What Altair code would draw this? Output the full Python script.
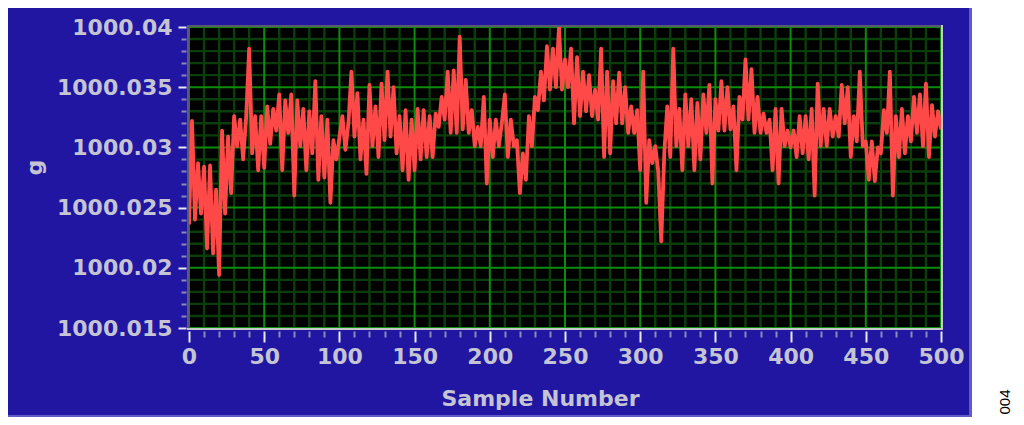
import altair as alt
import pandas as pd

# ---- data ----
sample_number = list(range(0, 501, 2))
g_value = [
    1000.0236, 1000.0322, 1000.0240, 1000.0287, 1000.0245, 1000.0284, 1000.0216, 1000.0285, 1000.0212, 1000.0265,
    1000.0194, 1000.0314, 1000.0245, 1000.0309, 1000.0262, 1000.0326, 1000.0301, 1000.0323, 1000.0290, 1000.0325,
    1000.0382, 1000.0295, 1000.0326, 1000.0281, 1000.0326, 1000.0283, 1000.0334, 1000.0303, 1000.0332, 1000.0314,
    1000.0344, 1000.0281, 1000.0339, 1000.0312, 1000.0344, 1000.0260, 1000.0339, 1000.0301, 1000.0332, 1000.0281,
    1000.0330, 1000.0295, 1000.0355, 1000.0273, 1000.0326, 1000.0275, 1000.0323, 1000.0254, 1000.0306, 1000.0290,
    1000.0308, 1000.0326, 1000.0298, 1000.0320, 1000.0363, 1000.0309, 1000.0345, 1000.0290, 1000.0323, 1000.0278,
    1000.0352, 1000.0301, 1000.0334, 1000.0292, 1000.0353, 1000.0306, 1000.0363, 1000.0309, 1000.0350, 1000.0295,
    1000.0326, 1000.0281, 1000.0331, 1000.0273, 1000.0323, 1000.0281, 1000.0332, 1000.0290, 1000.0331, 1000.0292,
    1000.0326, 1000.0292, 1000.0328, 1000.0317, 1000.0342, 1000.0323, 1000.0363, 1000.0312, 1000.0364, 1000.0312,
    1000.0392, 1000.0315, 1000.0356, 1000.0312, 1000.0331, 1000.0301, 1000.0317, 1000.0301, 1000.0342, 1000.0270,
    1000.0323, 1000.0292, 1000.0323, 1000.0301, 1000.0320, 1000.0344, 1000.0292, 1000.0323, 1000.0301, 1000.0306,
    1000.0262, 1000.0295, 1000.0273, 1000.0326, 1000.0301, 1000.0342, 1000.0331, 1000.0363, 1000.0339, 1000.0384,
    1000.0348, 1000.0382, 1000.0350, 1000.0400, 1000.0348, 1000.0373, 1000.0350, 1000.0382, 1000.0320, 1000.0375,
    1000.0326, 1000.0363, 1000.0330, 1000.0360, 1000.0326, 1000.0348, 1000.0323, 1000.0382, 1000.0292, 1000.0363,
    1000.0295, 1000.0355, 1000.0320, 1000.0362, 1000.0320, 1000.0350, 1000.0312, 1000.0334, 1000.0312, 1000.0331,
    1000.0281, 1000.0363, 1000.0254, 1000.0306, 1000.0287, 1000.0301, 1000.0280, 1000.0222, 1000.0295, 1000.0334,
    1000.0292, 1000.0382, 1000.0301, 1000.0332, 1000.0281, 1000.0344, 1000.0301, 1000.0340, 1000.0281, 1000.0337,
    1000.0290, 1000.0344, 1000.0312, 1000.0352, 1000.0270, 1000.0340, 1000.0314, 1000.0355, 1000.0314, 1000.0350,
    1000.0315, 1000.0334, 1000.0281, 1000.0342, 1000.0323, 1000.0373, 1000.0323, 1000.0365, 1000.0312, 1000.0342,
    1000.0312, 1000.0328, 1000.0312, 1000.0323, 1000.0281, 1000.0332, 1000.0270, 1000.0332, 1000.0301, 1000.0314,
    1000.0300, 1000.0314, 1000.0292, 1000.0326, 1000.0295, 1000.0326, 1000.0290, 1000.0332, 1000.0260, 1000.0353,
    1000.0301, 1000.0332, 1000.0301, 1000.0332, 1000.0309, 1000.0326, 1000.0309, 1000.0352, 1000.0320, 1000.0350,
    1000.0292, 1000.0326, 1000.0305, 1000.0363, 1000.0301, 1000.0305, 1000.0273, 1000.0305, 1000.0272, 1000.0300,
    1000.0295, 1000.0331, 1000.0312, 1000.0363, 1000.0260, 1000.0326, 1000.0292, 1000.0332, 1000.0295, 1000.0326,
    1000.0305, 1000.0342, 1000.0312, 1000.0344, 1000.0301, 1000.0353, 1000.0292, 1000.0335, 1000.0309, 1000.0330,
    1000.0315,
]
x_major_ticks = [0, 50, 100, 150, 200, 250, 300, 350, 400, 450, 500]
x_minor_ticks = [v for v in range(0, 501, 10) if v % 50 != 0]
y_major_ticks = [1000.015, 1000.020, 1000.025, 1000.030, 1000.035, 1000.040]
y_minor_ticks = [
    1000.016, 1000.017, 1000.018, 1000.019, 1000.021, 1000.022, 1000.023, 1000.024,
    1000.026, 1000.027, 1000.028, 1000.029, 1000.031, 1000.032, 1000.033, 1000.034,
    1000.036, 1000.037, 1000.038, 1000.039,
]
figure_id = ["004"]

df = pd.DataFrame({"Sample Number": sample_number, "g": g_value})
one = pd.DataFrame({"k": [0]})

# ---- styling ----
W, H = 752, 301
BLUE = "#2116a2"
LABEL = "#c4c4d4"
MAJOR = "#0c8c0c"
MINOR = "#0a3e0a"
FONT = "DejaVu Sans"

x_scale = alt.Scale(domain=[0, 500], nice=False, zero=False)
y_scale = alt.Scale(domain=[1000.015, 1000.04], nice=False, zero=False)

x_major = "datum.value % 50 === 0"
y_major = "abs(datum.value * 200 - round(datum.value * 200)) < 0.001"

x_axis = alt.Axis(
    values=x_major_ticks + x_minor_ticks,
    labelExpr=f"{x_major} ? datum.label : ''",
    labelOverlap=False, labelFlush=False, labelBound=False,
    labelFont=FONT, labelFontSize=22, labelFontWeight="bold", labelColor=LABEL,
    labelPadding=4,
    domain=False, offset=3, grid=False,
    tickColor={"condition": {"test": x_major, "value": "#e8e8f0"}, "value": "#8a8ab4"},
    tickSize={"condition": {"test": x_major, "value": 11}, "value": 6},
    tickWidth=2,
    title="Sample Number", titleFont=FONT, titleFontSize=22, titleFontWeight="bold",
    titleColor=LABEL, titleX=351, titleY=74, titleAlign="center", titleBaseline="alphabetic",
)

y_axis = alt.Axis(
    values=y_major_ticks + y_minor_ticks,
    labelExpr=f"{y_major} ? format(datum.value, '.3~f') : ''",
    labelOverlap=False, labelFlush=False, labelBound=False,
    labelFont=FONT, labelFontSize=22, labelFontWeight="bold", labelColor=LABEL,
    labelPadding=6,
    domain=False, offset=3, grid=False,
    tickColor={"condition": {"test": y_major, "value": "#e8e8f0"}, "value": "#8a8ab4"},
    tickSize={"condition": {"test": y_major, "value": 8}, "value": 5},
    tickWidth=2,
    title="g", titleFont=FONT, titleFontSize=22, titleFontWeight="bold", titleColor=LABEL,
    titleAngle=270, titleX=-145, titleY=140, titleAlign="center", titleBaseline="alphabetic",
)

# grid drawn as rules through the same scales (same axis objects so the axes merge)
grid_x_minor = alt.Chart(pd.DataFrame({"Sample Number": x_minor_ticks})).mark_rule(
    color=MINOR, strokeWidth=2.4).encode(x=alt.X("Sample Number:Q", scale=x_scale, axis=x_axis))
grid_y_minor = alt.Chart(pd.DataFrame({"g": y_minor_ticks})).mark_rule(
    color=MINOR, strokeWidth=2.4).encode(y=alt.Y("g:Q", scale=y_scale, axis=y_axis))
grid_x_major = alt.Chart(pd.DataFrame({"Sample Number": x_major_ticks})).mark_rule(
    color=MAJOR, strokeWidth=2).encode(x=alt.X("Sample Number:Q", scale=x_scale, axis=x_axis))
grid_y_major = alt.Chart(pd.DataFrame({"g": y_major_ticks})).mark_rule(
    color=MAJOR, strokeWidth=2).encode(y=alt.Y("g:Q", scale=y_scale, axis=y_axis))

line = alt.Chart(df).mark_line(color="#ff4848", strokeWidth=3.8, strokeJoin="round").encode(
    x=alt.X("Sample Number:Q", scale=x_scale, axis=x_axis),
    y=alt.Y("g:Q", scale=y_scale, axis=y_axis),
)

# white page area right of the blue panel + light panel edges
white_right = alt.Chart(one).mark_rect(color="white").encode(
    x=alt.value(783), x2=alt.value(860), y=alt.value(-40), y2=alt.value(420))
edge_right = alt.Chart(one).mark_rect(color="#5f5cc8").encode(
    x=alt.value(780), x2=alt.value(783), y=alt.value(-40), y2=alt.value(391))
edge_bottom = alt.Chart(one).mark_rect(color="#5f5cc8").encode(
    x=alt.value(-200), x2=alt.value(783), y=alt.value(388), y2=alt.value(391))

# sunken frame around the plot
dark = alt.Chart(one).mark_rule(color="#5a5a6e", strokeWidth=2)
light = alt.Chart(one).mark_rule(color="#c8c8cc", strokeWidth=2)
frame_top = dark.encode(x=alt.value(-2), x2=alt.value(W + 2), y=alt.value(-1))
frame_left = dark.encode(x=alt.value(-1), y=alt.value(-2), y2=alt.value(H + 2))
frame_bottom = light.encode(x=alt.value(-2), x2=alt.value(W + 2), y=alt.value(H + 1))
frame_right = light.encode(x=alt.value(W + 1), y=alt.value(-2), y2=alt.value(H + 2))

fig_label = alt.Chart(pd.DataFrame({"t": figure_id})).mark_text(
    angle=270, fontSize=15, font="Liberation Sans", color="black", align="center", baseline="middle"
).encode(text="t:N", x=alt.value(816), y=alt.value(375))

chart = alt.layer(
    white_right, edge_right, edge_bottom,
    grid_x_minor, grid_y_minor, grid_x_major, grid_y_major,
    line,
    frame_top, frame_left, frame_bottom, frame_right,
    fig_label,
).properties(
    width=W, height=H,
    background=BLUE,
    padding={"left": 181, "top": 19, "right": 75, "bottom": 89},
    autosize=alt.AutoSizeParams(type="none"),
).configure_view(fill="black", stroke="transparent")

chart.save("out.html", embed_options={"renderer": "svg", "actions": False})
